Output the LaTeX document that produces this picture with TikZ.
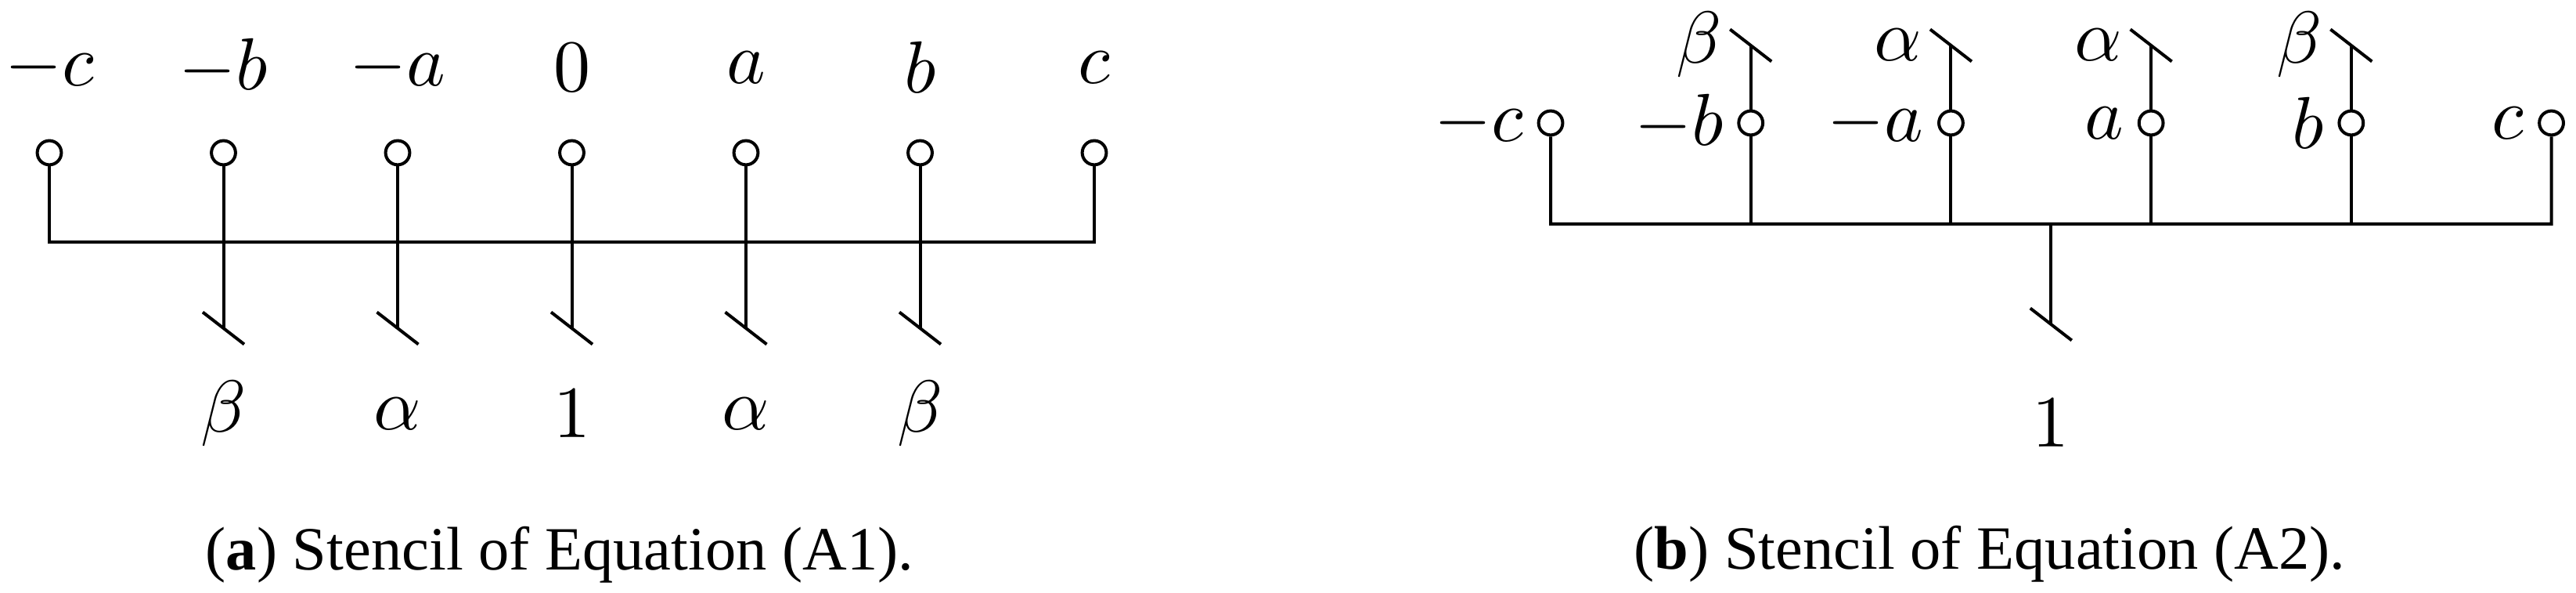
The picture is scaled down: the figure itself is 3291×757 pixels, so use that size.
\documentclass[tikz,border=0pt]{standalone}
\usepackage{fontspec}
\newfontfamily\capfont{Liberation Serif}
\begin{document}
\begin{tikzpicture}[x=0.10638pt,y=-0.10638pt, line width=0.4255pt,
  dot/.style={circle,draw,inner sep=0pt,minimum size=3.277pt},
  lab/.style={inner sep=0pt,font=\normalsize},
  captext/.style={inner sep=0pt,anchor=base,font=\capfont\fontsize{8.35pt}{10pt}\selectfont}]
\useasboundingbox (0,0) rectangle (3291,757);
% ---------------- (a) ----------------
\foreach \i/\t in {0/-c,1/-b,2/-a,3/0,4/a,5/b,6/c}{
  \node[dot] (a\i) at ({63+222.5*\i},195) {};
  \node[lab] (ta\i) at ({63+222.5*\i},86) {$\t$};
}
\coordinate (hL) at (63,309);
\coordinate (hR) at (1398,309);
\draw (a0.south) -- (hL) -- (hR) -- (a6.south);
\foreach \i/\t in {1/\beta,2/\alpha,3/1,4/\alpha,5/\beta}{
  \coordinate (ea\i) at ({63+222.5*\i},419);
  \draw (a\i.south) -- (ea\i);
  \draw ([shift={(-26.5,-20.5)}]ea\i) -- ([shift={(26.5,20.5)}]ea\i);
  \node[lab] (ba\i) at ({63+222.5*\i},528) {$\t$};
}
\node[captext] (capa) at (715,728) {(\textbf{a}) Stencil of Equation (A1).};
% ---------------- (b) ----------------
\foreach \i/\t in {0/-c,1/-b,2/-a,3/a,4/b,5/c}{
  \node[dot] (b\i) at ({1981+255.7*\i},157) {};
  \node[lab,anchor=east] (tb\i) at ({1981+255.7*\i-33},157) {$\t$};
}
\coordinate (gL) at (1981,286);
\coordinate (gR) at (3259.5,286);
\draw (b0.south) -- (gL) -- (gR) -- (b5.south);
\foreach \i in {1,2,3,4}{
  \coordinate (gb\i) at ({1981+255.7*\i},286);
  \draw (b\i.south) -- (gb\i);
}
\foreach \i/\t in {1/\beta,2/\alpha,3/\alpha,4/\beta}{
  \coordinate (ub\i) at ({1981+255.7*\i},58);
  \draw (b\i.north) -- (ub\i);
  \draw ([shift={(-26.5,-20.5)}]ub\i) -- ([shift={(26.5,20.5)}]ub\i);
  \node[lab,anchor=east] (lb\i) at ({1981+255.7*\i-35},57) {$\t$};
}
\coordinate (gM) at (2620.25,286);
\coordinate (eM) at (2620.25,414);
\draw (gM) -- (eM);
\draw ([shift={(-26.5,-20.5)}]eM) -- ([shift={(26.5,20.5)}]eM);
\node[lab] (one) at (2620.25,540) {$1$};
\node[captext] (capb) at (2542,727) {(\textbf{b}) Stencil of Equation (A2).};
\end{tikzpicture}
\end{document}
